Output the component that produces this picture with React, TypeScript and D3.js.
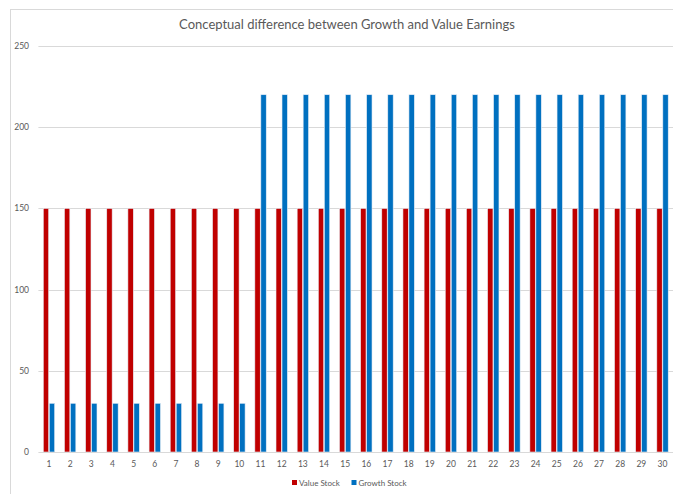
import React from "react";
import * as d3 from "d3";

const categories: string[] = Array.from({ length: 30 }, (_, i) => String(i + 1));
const valueStock: number[] = [150,150,150,150,150,150,150,150,150,150,150,150,150,150,150,150,150,150,150,150,150,150,150,150,150,150,150,150,150,150];
const growthStock: number[] = [30,30,30,30,30,30,30,30,30,30,220,220,220,220,220,220,220,220,220,220,220,220,220,220,220,220,220,220,220,220];
const yTicks: number[] = [0, 50, 100, 150, 200, 250];
const seriesNames: string[] = ["Value Stock", "Growth Stock"];
const seriesColors: string[] = ["#C00000", "#0070C0"];

const W = 673, H = 494;
const FONT = "Lato, 'Open Sans', sans-serif";

export default function App() {
  const x = d3.scaleBand<string>().domain(categories).range([38.4, 673.1]).paddingInner(0).paddingOuter(0);
  const y = d3.scaleLinear().domain([0, 250]).range([452, 46]);
  const barW = 5.4;
  const series = [valueStock, growthStock];
  return (
    <svg width={W} height={H} style={{ position: "absolute", left: 0, top: 0, background: "#fff" }} fontFamily={FONT}>
      <rect x={10.5} y={9.5} width={700} height={520} fill="#fff" stroke="#d9d9d9" strokeWidth={1} />
      <text x={347} y={29} textAnchor="middle" fontSize={13} fill="#595959">
        Conceptual difference between Growth and Value Earnings
      </text>
      {yTicks.map((t) => (
        <g key={t}>
          {t > 0 && (
            <line x1={38.4} x2={673} y1={Math.round(y(t)) + 0.5} y2={Math.round(y(t)) + 0.5} stroke="#d9d9d9" strokeWidth={1} />
          )}
          <text x={29} y={y(t) + 3} textAnchor="end" fontSize={8.5} fill="#595959">{t}</text>
        </g>
      ))}
      {series.map((vals, si) =>
        vals.map((v, i) => {
          const c = x(categories[i])! + x.bandwidth() / 2;
          const bx = si === 0 ? c - barW - 0.3 : c + 0.3;
          return (
            <rect key={`${si}-${i}`} x={bx} y={y(v)} width={barW} height={y(0) - y(v)} fill={seriesColors[si]} stroke="#e8eef6" strokeWidth={0.6} />
          );
        })
      )}
      <line x1={38.4} x2={673} y1={452.5} y2={452.5} stroke="#d9d9d9" strokeWidth={1} />
      {categories.map((c) => (
        <text key={c} x={x(c)! + x.bandwidth() / 2} y={467} textAnchor="middle" fontSize={8.5} fill="#595959">{c}</text>
      ))}
      <g>
        <rect x={292} y={480} width={5} height={5} fill={seriesColors[0]} />
        <text x={299} y={485.5} fontSize={8} fill="#595959">{seriesNames[0]}</text>
        <rect x={351.5} y={480} width={5} height={5} fill={seriesColors[1]} />
        <text x={358.5} y={485.5} fontSize={8} fill="#595959">{seriesNames[1]}</text>
      </g>
    </svg>
  );
}
